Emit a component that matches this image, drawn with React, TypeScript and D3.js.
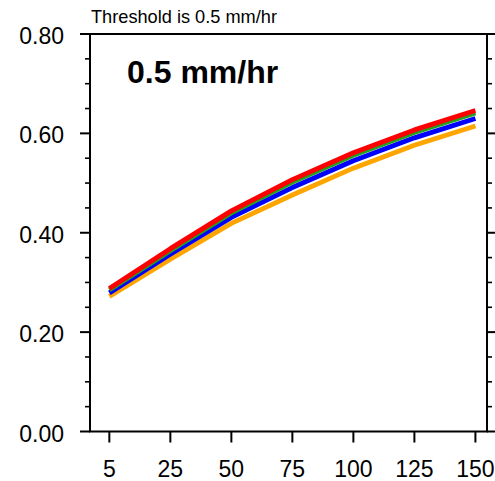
import React from "react";
import * as d3 from "d3";

const categories = ["5", "25", "50", "75", "100", "125", "150"];
const redValues = [0.288, 0.368, 0.444, 0.507, 0.561, 0.607, 0.646];
const greenValues = [0.285, 0.364, 0.44, 0.502, 0.556, 0.602, 0.641];
const blueValues = [0.279, 0.357, 0.431, 0.491, 0.545, 0.591, 0.63];
const orangeValues = [0.272, 0.347, 0.419, 0.476, 0.53, 0.576, 0.615];
const yMajorTicks = [0, 0.2, 0.4, 0.6, 0.8];
const titleText = "Threshold is 0.5 mm/hr";
const panelLabel = "0.5 mm/hr";

const W = 495;
const H = 481;
const left = 90;
const right = 487;
const top = 34;
const bottom = 431.5;
const FONT = "'Liberation Sans', Arial, Helvetica, sans-serif";

export default function App() {
  const x = d3
    .scaleLinear()
    .domain([-0.317, categories.length - 1 + 0.19])
    .range([left, right]);
  const y = d3.scaleLinear().domain([0, 0.8]).range([bottom, top]);

  const line = d3
    .line<number>()
    .x((_, i) => x(i))
    .y((d) => y(d));

  const series = [
    { values: orangeValues, color: "#ffa500" },
    { values: blueValues, color: "#0000ff" },
    { values: greenValues, color: "#22a022" },
    { values: redValues, color: "#ff0000" },
  ];

  const minorTicks = d3.range(0, 0.8001, 0.05).filter(
    (v) => !yMajorTicks.some((m) => Math.abs(m - v) < 1e-6)
  );

  return (
    <svg
      width={W}
      height={H}
      style={{ position: "absolute", left: 0, top: 0, background: "#fff" }}
      fontFamily={FONT}
    >
      <rect width={W} height={H} fill="#fff" />
      <g fill="none" strokeLinejoin="round">
        {series.map((s, i) => (
          <path key={i} d={line(s.values) || ""} stroke={s.color} strokeWidth={4.8} />
        ))}
      </g>
      {/* frame */}
      <rect
        x={left}
        y={top}
        width={right - left}
        height={bottom - top}
        fill="none"
        stroke="#000"
        strokeWidth={2}
      />
      {/* y ticks left & right */}
      {yMajorTicks.map((v) => (
        <g key={"M" + v}>
          <line x1={left - 10} x2={left} y1={y(v)} y2={y(v)} stroke="#000" strokeWidth={2} />
          <line x1={right} x2={right + 10} y1={y(v)} y2={y(v)} stroke="#000" strokeWidth={2} />
          <text x={64} y={y(v) + 10} textAnchor="end" fontSize={23} fill="#000">
            {v.toFixed(2)}
          </text>
        </g>
      ))}
      {minorTicks.map((v) => (
        <g key={"m" + v}>
          <line x1={left - 5} x2={left} y1={y(v)} y2={y(v)} stroke="#000" strokeWidth={1.6} />
          <line x1={right} x2={right + 5} y1={y(v)} y2={y(v)} stroke="#000" strokeWidth={1.6} />
        </g>
      ))}
      {/* x ticks */}
      {categories.map((c, i) => (
        <g key={c}>
          <line x1={x(i)} x2={x(i)} y1={bottom} y2={bottom + 11} stroke="#000" strokeWidth={2} />
          <text x={x(i)} y={477} textAnchor="middle" fontSize={23} fill="#000">
            {c}
          </text>
        </g>
      ))}
      <text x={91} y={22.5} fontSize={18.2} fill="#000">
        {titleText}
      </text>
      <text x={127} y={83} fontSize={32} fontWeight="bold" fill="#000">
        {panelLabel}
      </text>
    </svg>
  );
}
